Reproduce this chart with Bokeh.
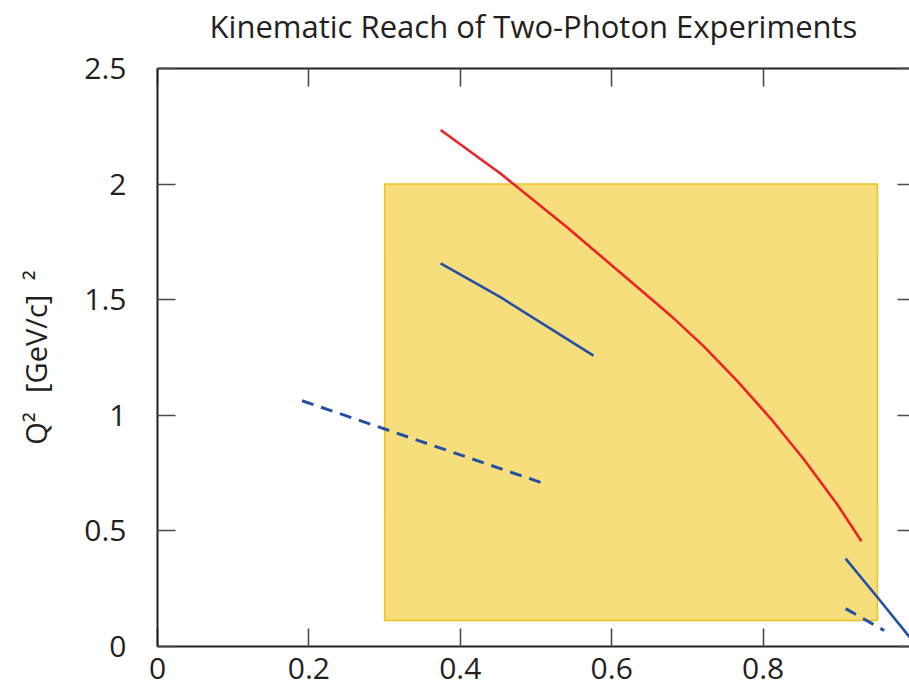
from bokeh.plotting import figure
from bokeh.models import Range1d, LinearAxis, FixedTicker
from bokeh.embed import file_html
from bokeh.resources import INLINE

# ---- data ----
title_text = "Kinematic Reach of Two-Photon Experiments"
y_label = "Q\u00b2\u2002\u2009[GeV/c]\u2002\u00b2"

x_ticks = [0, 0.2, 0.4, 0.6, 0.8, 1.0]
x_tick_labels = ["0", "0.2", "0.4", "0.6", "0.8", "1"]
y_ticks = [0, 0.5, 1, 1.5, 2, 2.5]
y_tick_labels = ["0", "0.5", "1", "1.5", "2", "2.5"]

box_x = [0.300, 0.951]
box_y = [0.112, 2.0]

red_x = [0.374, 0.453, 0.541, 0.629, 0.678, 0.722, 0.766, 0.810, 0.854, 0.898, 0.930]
red_y = [2.234, 2.046, 1.813, 1.568, 1.431, 1.297, 1.148, 0.986, 0.809, 0.614, 0.455]

blue_solid_x = [0.374, 0.453, 0.576]
blue_solid_y = [1.657, 1.511, 1.258]

blue_dash_x = [0.191, 0.506]
blue_dash_y = [1.063, 0.710]

blue_solid2_x = [0.909, 0.951, 0.993, 1.0]
blue_solid2_y = [0.380, 0.213, 0.043, 0.015]

blue_dash2_x = [0.909, 0.960]
blue_dash2_y = [0.164, 0.069]

# ---- styles / layout ----
FONT = "Open Sans"
AXIS_COL = "#231F20"
TICK_COL = "#4a4a4a"
RED = "#EC2227"
BLUE = "#2450A4"
FILL = "#F6DE7C"
EDGE = "#F2C11C"
W, H = 909, 690
FRAME_LEFT, FRAME_TOP, FRAME_BOTTOM = 157, 68, 646

p = figure(width=W, height=H, output_backend="svg", toolbar_location=None,
           x_range=Range1d(0, 0.9934), y_range=Range1d(0, 2.5),
           x_axis_location=None, y_axis_location=None,
           min_border_left=FRAME_LEFT, min_border_right=0,
           min_border_top=FRAME_TOP, min_border_bottom=H - FRAME_BOTTOM,
           background_fill_color="white", border_fill_color="white",
           outline_line_color=None)
p.grid.visible = False

xover = {t: l for t, l in zip(x_ticks, x_tick_labels)}
yover = {t: l for t, l in zip(y_ticks, y_tick_labels)}


def style_axis(ax, show_line=True, size="30px"):
    ax.major_tick_in = 18
    ax.major_tick_out = 0
    ax.minor_tick_in = 0
    ax.minor_tick_out = 0
    ax.major_tick_line_color = TICK_COL
    ax.major_tick_line_width = 1.6
    ax.axis_line_color = AXIS_COL if show_line else None
    ax.axis_line_width = 2
    ax.major_label_text_font = FONT
    ax.major_label_text_font_size = size
    ax.major_label_text_color = AXIS_COL


bottom = LinearAxis(ticker=FixedTicker(ticks=x_ticks), major_label_overrides=xover)
style_axis(bottom)
bottom.major_label_standoff = 11
p.add_layout(bottom, "below")

# top axis: ticks only, carries the chart title as its axis label
top = LinearAxis(ticker=FixedTicker(ticks=x_ticks),
                 major_label_overrides={t: "" for t in x_ticks})
style_axis(top)
top.major_label_standoff = 0
top.axis_label = title_text
top.axis_label_text_font = FONT
top.axis_label_text_font_size = "31px"
top.axis_label_text_font_style = "normal"
top.axis_label_text_color = AXIS_COL
top.axis_label_standoff = 22
p.add_layout(top, "above")

left = LinearAxis(ticker=FixedTicker(ticks=y_ticks), major_label_overrides=yover)
style_axis(left)
left.major_label_standoff = 31
left.axis_label = y_label
left.axis_label_text_font = FONT
left.axis_label_text_font_size = "29px"
left.axis_label_text_font_style = "normal"
left.axis_label_text_color = AXIS_COL
left.axis_label_standoff = 26
p.add_layout(left, "left")

right = LinearAxis(ticker=FixedTicker(ticks=y_ticks),
                   major_label_overrides={t: "" for t in y_ticks})
style_axis(right, show_line=False)
right.major_tick_in = 12
right.major_label_standoff = 0
p.add_layout(right, "right")

# ---- marks ----
p.quad(left=[box_x[0]], right=[box_x[1]], bottom=[box_y[0]], top=[box_y[1]],
       fill_color=FILL, line_color=EDGE, line_width=1.5)

p.line(red_x, red_y, line_color=RED, line_width=2.6, line_join="round")
p.line(blue_solid_x, blue_solid_y, line_color=BLUE, line_width=2.6, line_join="round")
p.line(blue_dash_x, blue_dash_y, line_color=BLUE, line_width=3, line_dash="12 8")
p.line(blue_solid2_x, blue_solid2_y, line_color=BLUE, line_width=2.6, line_join="round")
p.line(blue_dash2_x, blue_dash2_y, line_color=BLUE, line_width=3, line_dash="12 8")

open("out.html", "w").write(file_html(p, INLINE))
